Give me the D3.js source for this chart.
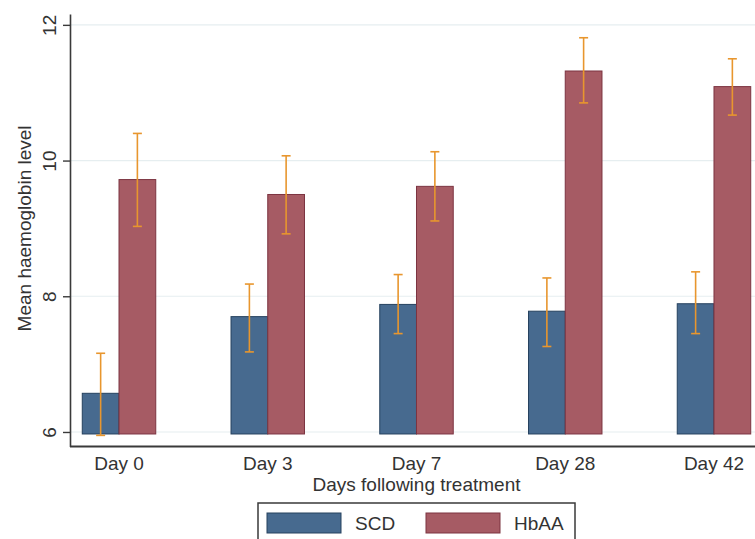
<!DOCTYPE html>
<html>
<head>
<meta charset="utf-8">
<script src="https://cdn.jsdelivr.net/npm/d3@7"></script>
<style>
  html, body { margin: 0; padding: 0; background: #ffffff; }
  svg { display: block; font-family: "Liberation Sans", Arial, sans-serif; }
</style>
</head>
<body>
<svg id="chart" width="755" height="539"></svg>
<script>
// ---- data ----
const days = ["Day 0", "Day 3", "Day 7", "Day 28", "Day 42"];
const seriesNames = ["SCD", "HbAA"];
const scdMean  = [6.57, 7.70, 7.88, 7.78, 7.89];
const scdLow   = [5.95, 7.18, 7.45, 7.26, 7.45];
const scdHigh  = [7.16, 8.18, 8.32, 8.27, 8.36];
const hbaaMean = [9.72, 9.50, 9.62, 11.32, 11.09];
const hbaaLow  = [9.03, 8.92, 9.11, 10.85, 10.67];
const hbaaHigh = [10.40, 10.07, 10.13, 11.81, 11.50];
const yTicks = [6, 8, 10, 12];
const xTitle = "Days following treatment";
const yTitle = "Mean haemoglobin level";

// ---- layout ----
const svg = d3.select("#chart");
const pLeft = 70, pRight = 763, pTop = 14, pBottom = 446.5;
const yBase = 6;
const colors = { SCD: "#476a8f", HbAA: "#a65b64" };
const strokes = { SCD: "#26425f", HbAA: "#7c3441" };
const errColor = "#e8962e";

const y = d3.scaleLinear().domain([5.786, 12.16]).range([pBottom, pTop]);
const x0 = d3.scaleBand().domain(days).range([pLeft, pRight])
  .paddingInner(0.506).paddingOuter(0.0825);
const x1 = d3.scaleBand().domain(seriesNames).range([0, x0.bandwidth()]);

const rows = days.map((d, i) => ({
  day: d,
  vals: [
    { s: "SCD", m: scdMean[i], lo: scdLow[i], hi: scdHigh[i] },
    { s: "HbAA", m: hbaaMean[i], lo: hbaaLow[i], hi: hbaaHigh[i] }
  ]
}));

// grid lines
svg.append("g").selectAll("line").data(yTicks).join("line")
  .attr("x1", pLeft + 1).attr("x2", 755)
  .attr("y1", d => y(d)).attr("y2", d => y(d))
  .attr("stroke", "#e6eef0").attr("stroke-width", 1.2);

// bars
const groups = svg.append("g").selectAll("g").data(rows).join("g")
  .attr("transform", d => `translate(${x0(d.day)},0)`);
groups.selectAll("rect").data(d => d.vals).join("rect")
  .attr("x", d => x1(d.s))
  .attr("width", x1.bandwidth())
  .attr("y", d => y(d.m))
  .attr("height", d => y(yBase) - y(d.m) + 2)
  .attr("fill", d => colors[d.s])
  .attr("stroke", d => strokes[d.s])
  .attr("stroke-width", 1);

// error bars
const eb = groups.selectAll("g.err").data(d => d.vals).join("g").attr("class", "err")
  .attr("transform", d => `translate(${x1(d.s) + x1.bandwidth() / 2},0)`);
eb.append("line").attr("x1", 0).attr("x2", 0)
  .attr("y1", d => y(d.lo)).attr("y2", d => y(d.hi))
  .attr("stroke", errColor).attr("stroke-width", 1.6);
eb.append("line").attr("x1", -4.5).attr("x2", 4.5)
  .attr("y1", d => y(d.hi)).attr("y2", d => y(d.hi))
  .attr("stroke", errColor).attr("stroke-width", 1.6);
eb.append("line").attr("x1", -4.5).attr("x2", 4.5)
  .attr("y1", d => y(d.lo)).attr("y2", d => y(d.lo))
  .attr("stroke", errColor).attr("stroke-width", 1.6);

// y axis
const yAxis = svg.append("g").attr("transform", `translate(${pLeft},0)`)
  .call(d3.axisLeft(y).tickValues(yTicks).tickSize(7).tickSizeOuter(0).tickFormat(d3.format("d")));
yAxis.select(".domain").attr("stroke", "#3a3a3a").attr("stroke-width", 1.6);
yAxis.selectAll(".tick line").attr("stroke", "#3a3a3a").attr("stroke-width", 1.4);
yAxis.selectAll(".tick text")
  .attr("transform", "rotate(-90)")
  .attr("x", 0).attr("y", -14).attr("dy", 0)
  .attr("text-anchor", "middle")
  .attr("font-size", 19).attr("fill", "#333")
  .attr("font-family", "'Liberation Sans', Arial, sans-serif");

// x axis
const xAxis = svg.append("g").attr("transform", `translate(0,${pBottom})`)
  .call(d3.axisBottom(x0).tickSize(0).tickSizeOuter(0));
xAxis.select(".domain").attr("stroke", "#3a3a3a").attr("stroke-width", 1.8)
  .attr("d", `M${pLeft},0H755`);
xAxis.selectAll(".tick text")
  .attr("y", 23).attr("dy", 0)
  .attr("font-size", 19).attr("fill", "#333")
  .attr("font-family", "'Liberation Sans', Arial, sans-serif");

// axis titles
svg.append("text")
  .attr("x", (pLeft + pRight) / 2).attr("y", 491)
  .attr("text-anchor", "middle").attr("font-size", 19).attr("fill", "#333")
  .text(xTitle);
svg.append("text")
  .attr("transform", `translate(31,${(y(12) + y(6)) / 2}) rotate(-90)`)
  .attr("text-anchor", "middle").attr("font-size", 19).attr("fill", "#333")
  .text(yTitle);

// legend
const lg = svg.append("g");
lg.append("rect").attr("x", 258).attr("y", 503).attr("width", 317).attr("height", 45)
  .attr("fill", "#fff").attr("stroke", "#3a3a3a").attr("stroke-width", 1.5);
const items = lg.selectAll("g.item").data(seriesNames).join("g").attr("class", "item")
  .attr("transform", (d, i) => `translate(${267 + i * 159},513)`);
items.append("rect").attr("width", 74).attr("height", 20)
  .attr("fill", d => colors[d]).attr("stroke", d => strokes[d]).attr("stroke-width", 1);
items.append("text").attr("x", 88).attr("y", 17)
  .attr("font-size", 19).attr("fill", "#333").text(d => d);
</script>
</body>
</html>
